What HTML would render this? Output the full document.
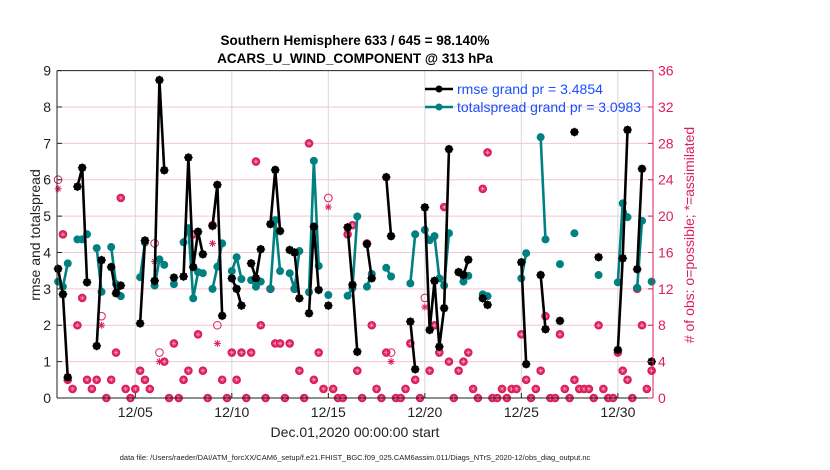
<!DOCTYPE html>
<html><head><meta charset="utf-8">
<style>
html,body{margin:0;padding:0;background:#fff;}
svg{display:block;font-family:"Liberation Sans",Arial,sans-serif;}
</style></head>
<body>
<svg id="chart" width="830" height="470" viewBox="0 0 830 470" xmlns="http://www.w3.org/2000/svg">
<rect x="0" y="0" width="830" height="470" fill="#fff"/>
<text x="355" y="45" text-anchor="middle" font-size="13.5" font-weight="bold">Southern Hemisphere 633 / 645 = 98.140%</text>
<text x="355" y="63" text-anchor="middle" font-size="13.5" font-weight="bold">ACARS_U_WIND_COMPONENT @ 313 hPa</text>
<text transform="translate(40,235) rotate(-90)" text-anchor="middle" font-size="14" fill="#222">rmse and totalspread</text>
<text transform="translate(694,235) rotate(-90)" text-anchor="middle" font-size="14" fill="#dc1e5a"># of obs: o=possible; *=assimilated</text>
<text x="355" y="437" text-anchor="middle" font-size="14" fill="#222">Dec.01,2020 00:00:00 start</text>
<text x="355" y="460" text-anchor="middle" font-size="7.5" fill="#222">data file: /Users/raeder/DAI/ATM_forcXX/CAM6_setup/f.e21.FHIST_BGC.f09_025.CAM6assim.011/Diags_NTrS_2020-12/obs_diag_output.nc</text>
<g id="grid"></g>
<g id="obs"></g>
<g id="series"></g>
<g id="axes"></g>
<g id="legend"></g>
</svg>
<script>
const times = [1,1.25,1.5, 2,2.25,2.5, 3,3.25, 3.75,4,4.25, 5.25,5.5, 6,6.25,6.5, 7, 7.5,7.75,8,8.25,8.5, 9,9.25,9.5, 10,10.25,10.5, 11,11.25,11.5, 12,12.25,12.5, 13,13.25,13.5, 14,14.25,14.5, 15, 16,16.25,16.5, 17,17.25, 18,18.25, 19.25,19.5, 20,20.25,20.5,20.75,21,21.25, 21.75,22,22.25, 23,23.25, 25,25.25, 26,26.25, 27, 27.75, 29, 30,30.25,30.5, 31,31.25, 31.75];
const rmse = [3.55,2.85,0.57, 5.81,6.33,3.18, 1.43,3.79, 3.60,2.88,3.09, 2.05,4.33, 3.22,8.74,6.26, 3.31, 3.34,6.61,3.60,4.57,3.95, 4.73,5.86,2.26, 3.29,3.0,2.54, 3.70,3.29,4.09, 4.78,6.27,4.59, 4.07,4.0,2.74, 2.33,4.71,2.97, 2.54, 4.69,3.11,1.27, 4.23,3.29, 6.07,4.45, 2.10,0.79, 5.24,1.87,3.22,1.41,2.47,6.84, 3.46,3.38,3.80, 2.74,2.56, 3.73,0.93, 3.38,1.89, 2.12, 7.31, 3.87, 1.32,3.84,7.37, 3.54,6.30, 1.0];
const spread = [3.20,3.06,3.70, 4.36,4.36,4.50, 4.12,2.92, 4.15,3.13,2.80, 3.32,4.27, 3.09,3.81,3.66, 3.13, 4.28,4.67,2.74,3.46,3.43, 3.0,3.61,4.25, 3.49,3.87,3.27, 3.24,3.06,3.20, 3.0,4.89,3.49, 3.43,3.0,4.04, 2.91,6.52,3.63, 2.83, 2.81,3.02,4.99, 3.06,3.41, 3.58,3.34, 3.15,4.50, 4.62,4.34,4.45,3.29,3.09,4.53, 3.46,3.20,3.36, 2.85,2.80, 3.29,3.98, 7.17,4.36, 3.68, 4.53, 3.38, 3.18,5.35,4.97, 3.03,4.87, 3.20];
const obsTimes = [1,1.25,1.5,1.75,2,2.25,2.5,2.75,3,3.25,3.5,3.75,4,4.25,4.5,4.75,5,5.25,5.5,5.75,6,6.25,6.5,6.75,7,7.25,7.5,7.75,8,8.25,8.5,8.75,9,9.25,9.5,9.75,10,10.25,10.5,10.75,11,11.25,11.5,11.75,12,12.25,12.5,12.75,13,13.25,13.5,13.75,14,14.25,14.5,14.75,15,15.25,15.5,15.75,16,16.25,16.5,16.75,17,17.25,17.5,17.75,18,18.25,18.5,18.75,19,19.25,19.5,19.75,20,20.25,20.5,20.75,21,21.25,21.5,21.75,22,22.25,22.5,22.75,23,23.25,23.5,23.75,24,24.25,24.5,24.75,25,25.25,25.5,25.75,26,26.25,26.5,26.75,27,27.25,27.5,27.75,28,28.25,28.5,28.75,29,29.25,29.5,29.75,30,30.25,30.5,30.75,31,31.25,31.5,31.75];
const obsPossible = [24,18,2,1,8,11,2,1,2,9,0,2,5,22,1,0,1,3,2,1,17,5,4,0,6,0,2,3,18,7,3,0,19,8,2,0,5,2,5,0,5,26,8,0,12,6,6,0,6,12,3,0,28,2,5,1,22,1,0,0,18,19,3,0,17,8,1,0,5,5,0,0,1,6,2,0,11,3,8,5,21,4,0,3,4,5,1,0,23,27,0,0,1,0,1,1,7,2,0,1,3,9,0,0,7,1,0,2,1,1,1,0,8,1,0,0,5,3,2,0,12,8,1,3];
const obsAssim = [23,18,2,1,8,11,2,1,2,8,0,2,5,22,1,0,1,3,2,1,15,4,4,0,6,0,2,3,18,7,3,0,17,6,2,0,5,2,5,0,5,26,8,0,12,6,6,0,6,12,3,0,28,2,5,1,21,1,0,0,18,19,3,0,17,8,1,0,5,4,0,0,1,6,2,0,10,3,8,5,21,4,0,3,4,5,1,0,23,27,0,0,1,0,1,1,7,2,0,1,3,9,0,0,7,1,0,2,1,1,1,0,8,1,0,0,5,3,2,0,12,8,1,3];
const xTickVals = [5,10,15,20,25,30];
const xTickLabels = ["12/05","12/10","12/15","12/20","12/25","12/30"];
const yTickVals = [0,1,2,3,4,5,6,7,8,9];
const y2TickVals = [0,4,8,12,16,20,24,28,32,36];

const NS="http://www.w3.org/2000/svg";
const L=57,R=653,T=70.6,B=398;
const xMin=0.943,xMax=31.82;
function X(t){return L+(t-xMin)/(xMax-xMin)*(R-L);}
function Y(v){return B-v/9*(B-T);}
function Y2(v){return B-v/36*(B-T);}
function mk(tag,attrs,parent){const e=document.createElementNS(NS,tag);for(const k in attrs)e.setAttribute(k,attrs[k]);parent.appendChild(e);return e;}
const grid=document.getElementById('grid'),axes=document.getElementById('axes'),obsG=document.getElementById('obs'),ser=document.getElementById('series'),leg=document.getElementById('legend');

yTickVals.forEach(v=>{ if(v>0&&v<9){const g=mk('line',{x1:L,x2:R,y1:Y(v),y2:Y(v),stroke:'#f2c6d6','stroke-width':1},grid);

}});
xTickVals.forEach(v=>{const g=mk('line',{x1:X(v),x2:X(v),y1:T,y2:B,stroke:'#d8d8d8','stroke-width':1},grid);

});

function obsMarker(x,y,circle,star,name){
  const g=mk('g',{},obsG);
  
  
  if(circle){mk('circle',{cx:x,cy:y,r:3.8,fill:circle==='fill'?'#dc1e5a':'none',stroke:'#dc1e5a','stroke-width':1},g);}
  if(star){const c=star==='white'?'#f7b8cc':'#dc1e5a';const len=star==='white'?2.4:3.5;const w=star==='white'?0.5:1;for(let a=0;a<4;a++){const an=a*Math.PI/4;mk('line',{x1:x-len*Math.cos(an),y1:y-len*Math.sin(an),x2:x+len*Math.cos(an),y2:y+len*Math.sin(an),stroke:c,'stroke-width':w},g);}}
}
obsTimes.forEach((t,i)=>{
  const p=obsPossible[i],a=obsAssim[i];
  if(p===a){obsMarker(X(t),Y2(p),'fill','white','obs-marker');}
  else{obsMarker(X(t),Y2(p),'open',null,'obs-possible-marker');obsMarker(X(t),Y2(a),null,'red','obs-assimilated-marker');}
});

function drawSeries(vals,color,name,star){
  let seg=[];
  const segs=[];
  times.forEach((t,i)=>{ if(i>0&&t-times[i-1]>0.3){segs.push(seg);seg=[];} seg.push([X(t),Y(vals[i])]); });
  segs.push(seg);
  segs.forEach(s=>{ if(s.length>1){const p=mk('polyline',{points:s.map(q=>q.join(',')).join(' '),fill:'none',stroke:color,'stroke-width':2.6,'stroke-linejoin':'round'},ser);
    
    }});
  times.forEach((t,i)=>{const c=mk('circle',{cx:X(t),cy:Y(vals[i]),r:4,fill:color},ser);
    
    
    if(star){for(let a=0;a<4;a++){const an=a*Math.PI/4;mk('line',{x1:X(t)-4.4*Math.cos(an),y1:Y(vals[i])-4.4*Math.sin(an),x2:X(t)+4.4*Math.cos(an),y2:Y(vals[i])+4.4*Math.sin(an),stroke:color,'stroke-width':1},ser);}}
  });
}
drawSeries(spread,'#008080','totalspread',false);
drawSeries(rmse,'#000','rmse',true);

let e;
e=mk('line',{x1:L,x2:R,y1:T,y2:T,stroke:'#222','stroke-width':1},axes);


e=mk('line',{x1:L,x2:L,y1:T,y2:B,stroke:'#222','stroke-width':1},axes);


e=mk('line',{x1:L,x2:R,y1:B,y2:B,stroke:'#222','stroke-width':1},axes);


e=mk('line',{x1:R,x2:R,y1:T,y2:B,stroke:'#dc1e5a','stroke-width':1},axes);


yTickVals.forEach(v=>{
  mk('line',{x1:L,x2:L+5,y1:Y(v),y2:Y(v),stroke:'#222'},axes);
  const t=mk('text',{x:L-6,y:Y(v)+5,'text-anchor':'end','font-size':14,fill:'#222'},axes);
  t.textContent=v;
  
  
});
y2TickVals.forEach(v=>{
  mk('line',{x1:R-5,x2:R,y1:Y2(v),y2:Y2(v),stroke:'#dc1e5a'},axes);
  const t=mk('text',{x:R+5,y:Y2(v)+5,'text-anchor':'start','font-size':14,fill:'#dc1e5a'},axes);
  t.textContent=v;
  
  
});
xTickVals.forEach((v,i)=>{
  mk('line',{x1:X(v),x2:X(v),y1:B,y2:B-5,stroke:'#222'},axes);
  const t=mk('text',{x:X(v),y:B+19,'text-anchor':'middle','font-size':14,fill:'#222'},axes);
  t.textContent=xTickLabels[i];
  
  
});

[['rmse grand pr = 3.4854','#000',89,'legend-entry-rmse'],['totalspread grand pr = 3.0983','#008080',107,'legend-entry-totalspread']].forEach(d=>{
  const g=mk('g',{},leg);
  
  
  mk('line',{x1:425,x2:453,y1:d[2],y2:d[2],stroke:d[1],'stroke-width':2.6},g);
  mk('circle',{cx:439,cy:d[2],r:3.5,fill:d[1]},g);
  const t=mk('text',{x:457,y:d[2]+5,'font-size':14,fill:'#1a4fff'},g);
  t.textContent=d[0];
});
</script>
</body></html>
